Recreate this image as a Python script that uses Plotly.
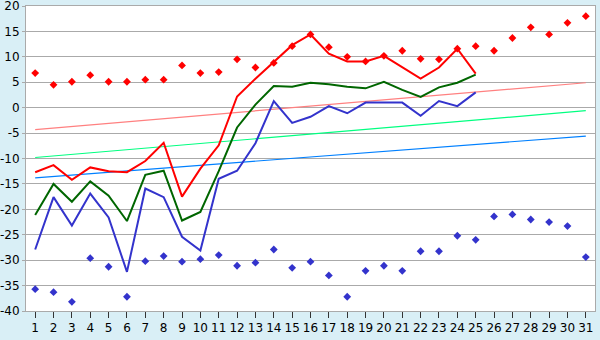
import plotly.graph_objects as go

days = list(range(1, 32))
days_line = list(range(1, 26))

red_pts = [6.8, 4.5, 5.1, 6.4, 5.1, 5.1, 5.5, 5.5, 8.3, 6.8, 7.0, 9.5, 7.9, 8.8, 12.1, 14.4,
           11.9, 10.0, 9.1, 10.2, 11.2, 9.6, 9.5, 11.6, 12.1, 11.2, 13.7, 15.8, 14.4, 16.7, 18.0]
blue_pts = [-35.7, -36.3, -38.2, -29.6, -31.3, -37.2, -30.2, -29.2, -30.3, -29.8, -29.0, -31.1,
            -30.5, -27.9, -31.5, -30.3, -33.0, -37.2, -32.1, -31.1, -32.1, -28.25, -28.25, -25.2,
            -26.0, -21.4, -21.0, -22.0, -22.5, -23.3, -29.4]

red_line = [-12.7, -11.3, -14.2, -11.75, -12.5, -12.7, -10.5, -6.9, -17.5, -12.0, -7.4, 2.2,
            5.7, 9.0, 12.3, 14.4, 10.6, 9.1, 9.1, 10.2, 7.9, 5.7, 7.9, 11.6, 6.7]
green_line = [-21.1, -15.0, -18.5, -14.5, -17.3, -22.3, -13.2, -12.4, -22.2, -20.5, -12.5, -3.9,
              0.6, 4.25, 4.1, 4.9, 4.6, 4.1, 3.8, 5.1, 3.5, 2.1, 4.0, 4.9, 6.5]
blue_line = [-27.9, -17.6, -23.2, -16.9, -21.6, -32.3, -15.9, -17.6, -25.4, -28.1, -14.0, -12.4,
             -7.0, 1.3, -3.0, -1.8, 0.3, -1.1, 1.0, 1.0, 1.0, -1.6, 1.3, 0.3, 3.0]

trend_x = [1, 31]
trend_pink = [-4.3, 4.9]
trend_green = [-9.8, -0.6]
trend_blue = [-13.8, -5.6]

yticks = list(range(-40, 25, 5))
xticks = days

fig = go.Figure()
fig.add_trace(go.Scatter(x=trend_x, y=trend_pink, mode="lines", line=dict(color="#ff8080", width=1.2)))
fig.add_trace(go.Scatter(x=trend_x, y=trend_green, mode="lines", line=dict(color="#00ff80", width=1.2)))
fig.add_trace(go.Scatter(x=trend_x, y=trend_blue, mode="lines", line=dict(color="#0080ff", width=1.2)))
fig.add_trace(go.Scatter(x=days_line, y=blue_line, mode="lines", line=dict(color="#3333cc", width=2)))
fig.add_trace(go.Scatter(x=days_line, y=green_line, mode="lines", line=dict(color="#006600", width=2)))
fig.add_trace(go.Scatter(x=days_line, y=red_line, mode="lines", line=dict(color="#ff0000", width=2)))
fig.add_trace(go.Scatter(x=days, y=red_pts, mode="markers",
                         marker=dict(symbol="diamond", size=6, color="#ff0000")))
fig.add_trace(go.Scatter(x=days, y=blue_pts, mode="markers",
                         marker=dict(symbol="diamond", size=6, color="#3333cc")))

fig.update_layout(
    width=600, height=340,
    margin=dict(l=26, r=5, t=5, b=20),
    paper_bgcolor="#d9eff6",
    plot_bgcolor="#ffffff",
    showlegend=False,
    hovermode=False,
    font=dict(family="DejaVu Sans", size=12, color="#000000"),
    xaxis=dict(range=[0.5, 31.5], tickvals=xticks, ticktext=[str(d) for d in xticks],
               showgrid=False, zeroline=False, showline=True, linecolor="#aaaaaa", linewidth=1,
               mirror=True, ticks="outside", ticklen=6, tickcolor="#333333", tickwidth=1),
    yaxis=dict(range=[-40, 20], tickvals=yticks, ticktext=[str(v) for v in yticks],
               ticklabeloverflow="allow",
               showgrid=True, gridcolor="#aaaaaa", gridwidth=1, zeroline=False, automargin=False,
               showline=True, linecolor="#aaaaaa", linewidth=1, mirror=True,
               ticks="outside", ticklen=3, tickcolor="#aaaaaa"),
)

fig.write_html("out.html")
